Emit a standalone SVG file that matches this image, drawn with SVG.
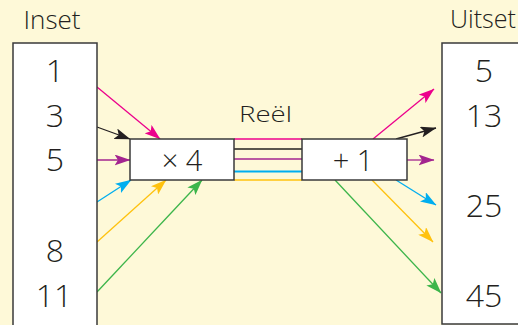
<svg xmlns="http://www.w3.org/2000/svg" width="518" height="325" viewBox="0 0 518 325">
<defs>
<style>
.bg{fill:#fef9d8}
.box{fill:#ffffff;stroke:#3a3a3a;stroke-width:1.5}
.t{font-family:"Open Sans","Liberation Sans",Arial,sans-serif;font-weight:300;fill:#231f20;text-anchor:middle}
.title{font-size:25px}
.num{font-size:32px}
.op{font-size:29px}
.lbl{font-size:22px}
.c{fill:none;stroke-width:1.3}
.pink{stroke:#ec008c}
.blk{stroke:#231f20}
.pur{stroke:#a3248f}
.blu{stroke:#00aeef}
.yel{stroke:#ffc20e}
.grn{stroke:#3cb54a}
</style>
<marker id="hPink" viewBox="0 0 16 11" refX="15.5" refY="5.5" markerWidth="16" markerHeight="11" markerUnits="userSpaceOnUse" orient="auto"><path d="M0,0 L16,5.5 L0,11 L3.5,5.5 z" fill="#ec008c"/></marker>
<marker id="hBlk" viewBox="0 0 16 11" refX="15.5" refY="5.5" markerWidth="16" markerHeight="11" markerUnits="userSpaceOnUse" orient="auto"><path d="M0,0 L16,5.5 L0,11 L3.5,5.5 z" fill="#231f20"/></marker>
<marker id="hPur" viewBox="0 0 16 11" refX="15.5" refY="5.5" markerWidth="16" markerHeight="11" markerUnits="userSpaceOnUse" orient="auto"><path d="M0,0 L16,5.5 L0,11 L3.5,5.5 z" fill="#a3248f"/></marker>
<marker id="hBlu" viewBox="0 0 16 11" refX="15.5" refY="5.5" markerWidth="16" markerHeight="11" markerUnits="userSpaceOnUse" orient="auto"><path d="M0,0 L16,5.5 L0,11 L3.5,5.5 z" fill="#00aeef"/></marker>
<marker id="hYel" viewBox="0 0 16 11" refX="15.5" refY="5.5" markerWidth="16" markerHeight="11" markerUnits="userSpaceOnUse" orient="auto"><path d="M0,0 L16,5.5 L0,11 L3.5,5.5 z" fill="#ffc20e"/></marker>
<marker id="hGrn" viewBox="0 0 16 11" refX="15.5" refY="5.5" markerWidth="16" markerHeight="11" markerUnits="userSpaceOnUse" orient="auto"><path d="M0,0 L16,5.5 L0,11 L3.5,5.5 z" fill="#3cb54a"/></marker>
</defs>
<rect class="bg" x="0" y="0" width="518" height="325"/>

<text class="t title" x="52" y="29" textLength="57" lengthAdjust="spacingAndGlyphs">Inset</text>
<text class="t title" x="483" y="28" textLength="66" lengthAdjust="spacingAndGlyphs">Uitset</text>
<text class="t lbl" x="265.5" y="122" textLength="53" lengthAdjust="spacingAndGlyphs">Reël</text>

<g id="connectors">
<line class="c pink" x1="234" y1="139" x2="302" y2="139"/>
<line class="c blk" x1="234" y1="149" x2="302" y2="149"/>
<line class="c pur" x1="234" y1="159" x2="302" y2="159"/>
<line class="c blu" x1="234" y1="171.5" x2="302" y2="171.5" style="stroke-width:1.8"/>
<line class="c yel" x1="234" y1="180" x2="302" y2="180"/>

<line class="c pink" x1="97" y1="87" x2="160" y2="139" marker-end="url(#hPink)"/>
<line class="c blk" x1="97" y1="127" x2="130" y2="139" marker-end="url(#hBlk)"/>
<line class="c pur" x1="97" y1="160" x2="130" y2="160" marker-end="url(#hPur)"/>
<line class="c blu" x1="97" y1="202" x2="131" y2="180" marker-end="url(#hBlu)"/>
<line class="c yel" x1="97" y1="242" x2="166" y2="180" marker-end="url(#hYel)"/>
<line class="c grn" x1="97" y1="292" x2="202" y2="180" marker-end="url(#hGrn)"/>

<line class="c pink" x1="373" y1="139" x2="434" y2="89" marker-end="url(#hPink)"/>
<line class="c blk" x1="396" y1="139" x2="436" y2="128" marker-end="url(#hBlk)"/>
<line class="c pur" x1="407" y1="160" x2="434" y2="160" marker-end="url(#hPur)"/>
<line class="c blu" x1="396" y1="180" x2="436" y2="205" marker-end="url(#hBlu)"/>
<line class="c yel" x1="372" y1="180" x2="433" y2="242" marker-end="url(#hYel)"/>
<line class="c grn" x1="335" y1="180" x2="441" y2="293" marker-end="url(#hGrn)"/>
</g>

<g id="inset">
<rect class="box" x="13" y="43" width="84" height="300"/>
<text class="t num" x="55" y="82">1</text>
<text class="t num" x="55" y="127">3</text>
<text class="t num" x="55" y="171">5</text>
<text class="t num" x="55" y="262">8</text>
<text class="t num" x="54" y="307">11</text>
</g>

<g id="uitset">
<rect class="box" x="442" y="43" width="100" height="281"/>
<text class="t num" x="484" y="82">5</text>
<text class="t num" x="484" y="127">13</text>
<text class="t num" x="484" y="217">25</text>
<text class="t num" x="484" y="307">45</text>
</g>

<g id="times4">
<rect class="box" x="130" y="139" width="104" height="41"/>
<text class="t op" x="182" y="171">× 4</text>
</g>

<g id="plus1">
<rect class="box" x="302" y="139" width="105" height="41"/>
<text class="t op" x="353" y="171">+ 1</text>
</g>
</svg>
